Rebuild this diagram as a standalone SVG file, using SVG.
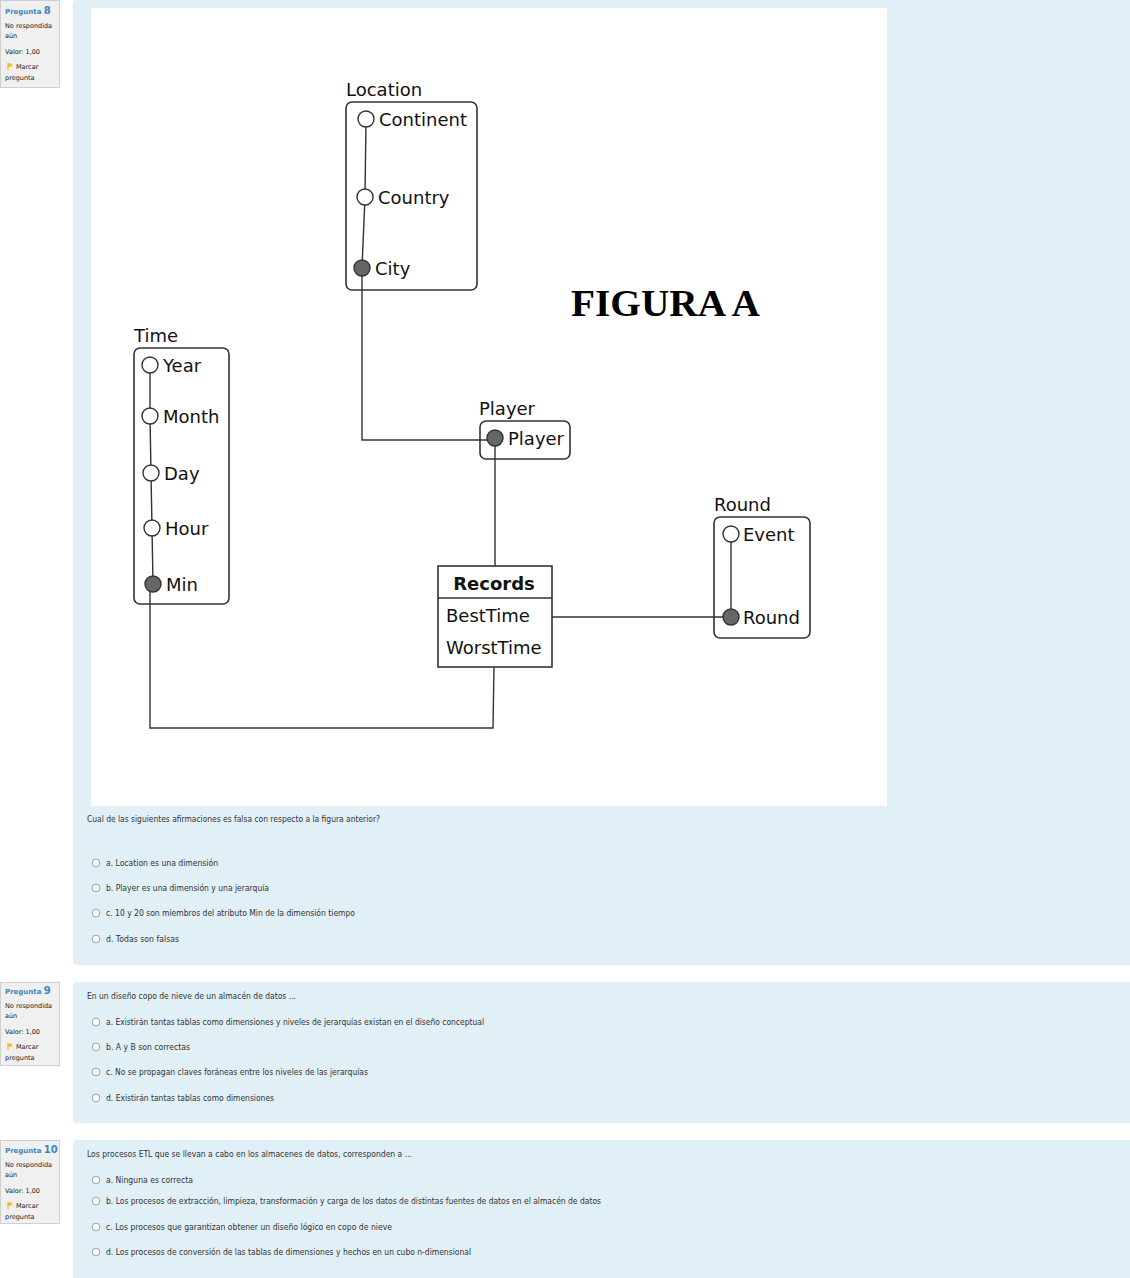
<svg xmlns="http://www.w3.org/2000/svg" width="1130" height="1278" viewBox="0 0 1130 1278">
<style>
.panel{fill:#e1eff7}
.info{fill:#f0f0f0;stroke:#cfcfcf;stroke-width:1}
.it{font-family:"DejaVu Sans",Verdana,sans-serif;font-size:6.5px;fill:#222}
.pq{font-family:"DejaVu Sans",Verdana,sans-serif;font-size:7px;fill:#3a86c4;font-weight:bold}
.pqn{font-size:10px}
.qt{font-family:"DejaVu Sans",Verdana,sans-serif;font-size:8.5px;fill:#333}
.radio{fill:#fff;stroke:#888;stroke-width:0.8}
.box{fill:none;stroke:#333;stroke-width:1.6}
.lbl{font-family:"DejaVu Sans",sans-serif;font-size:18px;fill:#111}
.open{fill:#fff;stroke:#333;stroke-width:1.4}
.filled{fill:#666;stroke:#333;stroke-width:1.4}
.conn{fill:none;stroke:#333;stroke-width:1.4}
</style>
<defs>
<g id="flag"><path d="M0,0 L0,7" stroke="#d9a400" stroke-width="0.9"/><path d="M0,0 L5,1 L3,2.5 L5,4 L0,3.5 Z" fill="#f2c01e"/></g>
</defs>
<rect width="1130" height="1278" fill="#fff"/>

<!-- Question panels -->
<rect class="panel" x="73" y="0" width="1062" height="965" rx="4"/>
<rect class="panel" x="73" y="982" width="1062" height="141" rx="4"/>
<rect class="panel" x="73" y="1140" width="1062" height="143" rx="4"/>

<!-- Info boxes -->
<g id="info8">
<rect class="info" x="0.5" y="0.5" width="59" height="87"/>
<text class="pq" x="5" y="14">Pregunta <tspan class="pqn">8</tspan></text>
<text class="it" x="5" y="28">No respondida</text>
<text class="it" x="5" y="38">aún</text>
<text class="it" x="5" y="54">Valor: 1,00</text>
<use href="#flag" x="8" y="63"/>
<text class="it" x="16" y="69">Marcar</text>
<text class="it" x="5" y="80">pregunta</text>
</g>
<g id="info9">
<rect class="info" x="0.5" y="982.5" width="59" height="83"/>
<text class="pq" x="5" y="994">Pregunta <tspan class="pqn">9</tspan></text>
<text class="it" x="5" y="1008">No respondida</text>
<text class="it" x="5" y="1018">aún</text>
<text class="it" x="5" y="1034">Valor: 1,00</text>
<use href="#flag" x="8" y="1043"/>
<text class="it" x="16" y="1049">Marcar</text>
<text class="it" x="5" y="1060">pregunta</text>
</g>
<g id="info10">
<rect class="info" x="0.5" y="1140.5" width="59" height="83"/>
<text class="pq" x="5" y="1153">Pregunta <tspan class="pqn">10</tspan></text>
<text class="it" x="5" y="1167">No respondida</text>
<text class="it" x="5" y="1177">aún</text>
<text class="it" x="5" y="1193">Valor: 1,00</text>
<use href="#flag" x="8" y="1202"/>
<text class="it" x="16" y="1208">Marcar</text>
<text class="it" x="5" y="1219">pregunta</text>
</g>

<!-- Figure -->
<rect x="91" y="8" width="796" height="798" fill="#fff"/>

<g id="connectors">
<path class="conn" d="M366,119 L365,197 L362,268 L362,440 L495,440"/>
<path class="conn" d="M150,365 L150,416 L151,473 L152,528 L153,584 L150,584 L150,728 L493,728 L494,667"/>
<path class="conn" d="M495,438 L495,566"/>
<path class="conn" d="M552,617 L731,617"/>
<path class="conn" d="M731,534 L731,617"/>
</g>

<g id="location">
<text class="lbl" x="346" y="96">Location</text>
<rect class="box" x="346" y="102" width="131" height="188" rx="6"/>
<circle class="open" cx="366" cy="119" r="8"/>
<text class="lbl" x="379" y="126">Continent</text>
<circle class="open" cx="365" cy="197" r="8"/>
<text class="lbl" x="378" y="204">Country</text>
<circle class="filled" cx="362" cy="268" r="8"/>
<text class="lbl" x="375" y="275">City</text>
</g>

<g id="time">
<text class="lbl" x="134" y="342">Time</text>
<rect class="box" x="134" y="348" width="95" height="256" rx="6"/>
<circle class="open" cx="150" cy="365" r="8"/>
<text class="lbl" x="163" y="372">Year</text>
<circle class="open" cx="150" cy="416" r="8"/>
<text class="lbl" x="163" y="423">Month</text>
<circle class="open" cx="151" cy="473" r="8"/>
<text class="lbl" x="164" y="480">Day</text>
<circle class="open" cx="152" cy="528" r="8"/>
<text class="lbl" x="165" y="535">Hour</text>
<circle class="filled" cx="153" cy="584" r="8"/>
<text class="lbl" x="166" y="591">Min</text>
</g>

<g id="player">
<text class="lbl" x="479" y="415">Player</text>
<rect class="box" x="480" y="421" width="90" height="38" rx="6"/>
<circle class="filled" cx="495" cy="438" r="8"/>
<text class="lbl" x="508" y="445">Player</text>
</g>

<g id="records">
<rect class="box" x="438" y="566" width="114" height="101"/>
<line class="box" x1="438" y1="598" x2="552" y2="598"/>
<text class="lbl" x="494" y="590" text-anchor="middle" font-weight="bold">Records</text>
<text class="lbl" x="446" y="622">BestTime</text>
<text class="lbl" x="446" y="654">WorstTime</text>
</g>

<g id="round">
<text class="lbl" x="714" y="511">Round</text>
<rect class="box" x="714" y="517" width="96" height="121" rx="6" stroke-width="2.2"/>
<circle class="open" cx="731" cy="534" r="8"/>
<text class="lbl" x="743" y="541">Event</text>
<circle class="filled" cx="731" cy="617" r="8"/>
<text class="lbl" x="743" y="624">Round</text>
</g>

<text x="571" y="316" font-family="'Liberation Serif','Times New Roman',serif" font-weight="bold" font-size="37" fill="#000" textLength="189" lengthAdjust="spacingAndGlyphs">FIGURA A</text>

<!-- Question 8 -->
<g id="q8">
<text class="qt" x="87" y="822" textLength="293" lengthAdjust="spacingAndGlyphs">Cual de las siguientes afirmaciones es falsa con respecto a la figura anterior?</text>
<circle class="radio" cx="96" cy="863" r="3.8"/>
<text class="qt" x="106" y="866" textLength="112" lengthAdjust="spacingAndGlyphs">a. Location es una dimensión</text>
<circle class="radio" cx="96" cy="888" r="3.8"/>
<text class="qt" x="106" y="891" textLength="163" lengthAdjust="spacingAndGlyphs">b. Player es una dimensión y una jerarquía</text>
<circle class="radio" cx="96" cy="913" r="3.8"/>
<text class="qt" x="106" y="916" textLength="249" lengthAdjust="spacingAndGlyphs">c. 10 y 20 son miembros del atributo Min de la dimensión tiempo</text>
<circle class="radio" cx="96" cy="939" r="3.8"/>
<text class="qt" x="106" y="942" textLength="73" lengthAdjust="spacingAndGlyphs">d. Todas son falsas</text>
</g>

<!-- Question 9 -->
<g id="q9">
<text class="qt" x="87" y="999" textLength="209" lengthAdjust="spacingAndGlyphs">En un diseño copo de nieve de un almacén de datos ...</text>
<circle class="radio" cx="96" cy="1022" r="3.8"/>
<text class="qt" x="106" y="1025" textLength="378" lengthAdjust="spacingAndGlyphs">a. Existirán tantas tablas como dimensiones y niveles de jerarquías existan en el diseño conceptual</text>
<circle class="radio" cx="96" cy="1047" r="3.8"/>
<text class="qt" x="106" y="1050" textLength="84" lengthAdjust="spacingAndGlyphs">b. A y B son correctas</text>
<circle class="radio" cx="96" cy="1072" r="3.8"/>
<text class="qt" x="106" y="1075" textLength="262" lengthAdjust="spacingAndGlyphs">c. No se propagan claves foráneas entre los niveles de las jerarquías</text>
<circle class="radio" cx="96" cy="1098" r="3.8"/>
<text class="qt" x="106" y="1101" textLength="168" lengthAdjust="spacingAndGlyphs">d. Existirán tantas tablas como dimensiones</text>
</g>

<!-- Question 10 -->
<g id="q10">
<text class="qt" x="87" y="1157" textLength="325" lengthAdjust="spacingAndGlyphs">Los procesos ETL que se llevan a cabo en los almacenes de datos, corresponden a ...</text>
<circle class="radio" cx="96" cy="1180" r="3.8"/>
<text class="qt" x="106" y="1183" textLength="87" lengthAdjust="spacingAndGlyphs">a. Ninguna es correcta</text>
<circle class="radio" cx="96" cy="1201" r="3.8"/>
<text class="qt" x="106" y="1204" textLength="495" lengthAdjust="spacingAndGlyphs">b. Los procesos de extracción, limpieza, transformación y carga de los datos de distintas fuentes de datos en el almacén de datos</text>
<circle class="radio" cx="96" cy="1227" r="3.8"/>
<text class="qt" x="106" y="1230" textLength="286" lengthAdjust="spacingAndGlyphs">c. Los  procesos que garantizan obtener un diseño lógico en copo de nieve</text>
<circle class="radio" cx="96" cy="1252" r="3.8"/>
<text class="qt" x="106" y="1255" textLength="365" lengthAdjust="spacingAndGlyphs">d. Los procesos de conversión de las tablas de dimensiones y hechos en un cubo n-dimensional</text>
</g>
</svg>
